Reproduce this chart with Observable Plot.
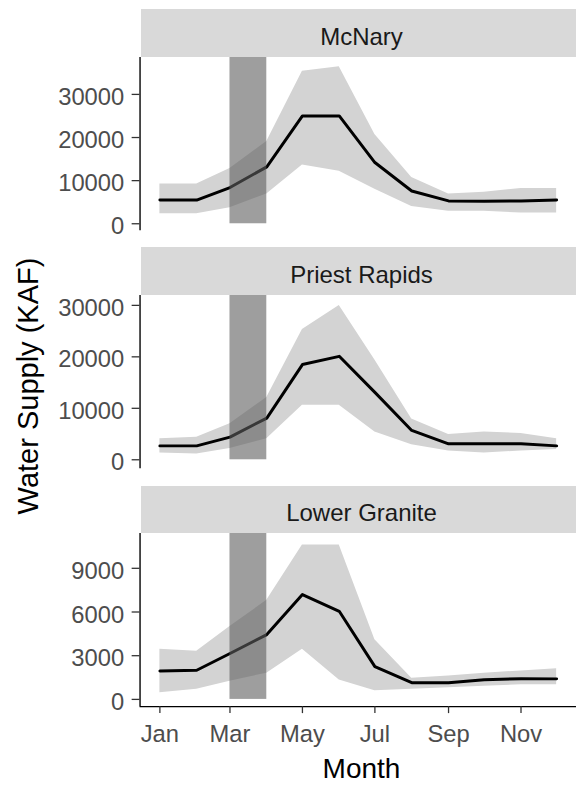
<!DOCTYPE html>
<html>
<head>
<meta charset="utf-8">
<script src="https://cdn.jsdelivr.net/npm/d3@7"></script>
<script src="https://cdn.jsdelivr.net/npm/@observablehq/plot@0.6"></script>
<style>
html, body { margin: 0; padding: 0; background: #fff; overflow: hidden; }
body { width: 576px; height: 785px; position: relative; font-family: Arial, "Liberation Sans", sans-serif; }
.strip { position: absolute; left: 141px; width: 441px; background: #d9d9d9; color: #1a1a1a;
  font-size: 24px; display: flex; align-items: center; justify-content: center; box-sizing: border-box; padding-top: 7px; }
.panel { position: absolute; left: 0; }
.panel svg { overflow: visible; display: block; }
#ytitle { position: absolute; width: 320px; height: 30px; line-height: 30px; font-size: 29px; color: #000;
  text-align: center; left: -132.5px; top: 371px; transform: rotate(-90deg); transform-origin: 160px 15px; white-space: nowrap; }
#xtitle { position: absolute; left: 141px; width: 441px; top: 755px; height: 28px; line-height: 28px; font-size: 28px;
  color: #000; text-align: center; }
</style>
</head>
<body>
<div id="root"></div>
<script>
// ---- data ----
const months = ["Jan","Feb","Mar","Apr","May","Jun","Jul","Aug","Sep","Oct","Nov","Dec"];
const stations = ["McNary", "Priest Rapids", "Lower Granite"];

const mcnaryMedian = [5500, 5500, 8400, 13200, 25000, 25000, 14200, 7600, 5300, 5200, 5300, 5500];
const mcnaryLow    = [2300, 2300, 3700, 6900, 13600, 12200, 8000, 4000, 2900, 2900, 2500, 2500];
const mcnaryHigh   = [9200, 9200, 12800, 19100, 35400, 36400, 20700, 10700, 6900, 7300, 8200, 8200];

const priestMedian = [2700, 2700, 4400, 8100, 18500, 20100, 13100, 5700, 3100, 3100, 3100, 2700];
const priestLow    = [1300, 1100, 2200, 4100, 10600, 10600, 5400, 2900, 1700, 1300, 1700, 2000];
const priestHigh   = [4100, 4400, 7000, 12100, 25300, 30000, 19400, 7900, 4900, 5400, 5100, 4100];

const graniteMedian = [1950, 2000, 3150, 4450, 7200, 6050, 2250, 1150, 1150, 1350, 1420, 1410];
const graniteLow    = [450, 700, 1250, 1800, 3450, 1330, 600, 700, 800, 900, 1000, 1000];
const graniteHigh   = [3450, 3300, 5000, 6800, 10600, 10600, 4100, 1450, 1600, 1800, 1950, 2100];

const ticksLarge = [0, 10000, 20000, 30000];
const ticksSmall = [0, 3000, 6000, 9000];
const xTickLabels = ["Jan", "Mar", "May", "Jul", "Sep", "Nov"];
const highlightMonths = ["Mar", "Apr"];

// ---- build ----
const YEAR = 2019;
const monthDate = m => new Date(Date.UTC(YEAR, months.indexOf(m), 1));
function rows(med, lo, hi) {
  return months.map((m, i) => ({date: monthDate(m), median: med[i], low: lo[i], high: hi[i]}));
}
const series = [
  {name: stations[0], data: rows(mcnaryMedian, mcnaryLow, mcnaryHigh), ticks: ticksLarge, yDomain: [-1607, 38560]},
  {name: stations[1], data: rows(priestMedian, priestLow, priestHigh), ticks: ticksLarge, yDomain: [-1731, 31920]},
  {name: stations[2], data: rows(graniteMedian, graniteLow, graniteHigh), ticks: ticksSmall, yDomain: [-500, 11390]}
];
const t0 = monthDate(months[0]), t1 = monthDate(months[months.length - 1]);
const pad = (t1 - t0) * 0.05;
const xDomain = [new Date(+t0 - pad), new Date(+t1 + pad)];
const xTicks = xTickLabels.map(monthDate);

const stripTops = [9, 247, 486];
const stripHeights = [48, 48, 47];
const panelTops = [57, 295, 533];
const PANEL_H = 175;
const FONT = 'Arial, "Liberation Sans", sans-serif';
const root = document.getElementById("root");

series.forEach((s, i) => {
  const strip = document.createElement("div");
  strip.className = "strip";
  strip.style.top = stripTops[i] + "px";
  strip.style.height = stripHeights[i] + "px";
  strip.textContent = s.name;
  root.appendChild(strip);

  const last = i === series.length - 1;
  const mb = last ? 45 : 0;
  const hl = [{x1: monthDate(highlightMonths[0]), x2: monthDate(highlightMonths[1]), y1: 0, y2: s.yDomain[1]}];
  const marks = [
    Plot.areaY(s.data, {x: "date", y1: "low", y2: "high", fill: "#d3d3d3"}),
    Plot.lineY(s.data, {x: "date", y: "median", stroke: "#000", strokeWidth: 3}),
    Plot.rect(hl, {x1: "x1", x2: "x2", y1: "y1", y2: "y2", fill: "#5e5e5e", fillOpacity: 0.6}),
    Plot.ruleX([xDomain[0]], {stroke: "#000", strokeWidth: 1.4}),
    Plot.axisY(s.ticks, {tickSize: 8, stroke: "#333", strokeWidth: 1.3, fill: "none", label: null}),
    Plot.axisY(s.ticks, {tickSize: 0, tickPadding: 16, tickFormat: d3.format("d"), fontSize: 24,
      fill: "#4d4d4d", dy: 3, label: null})
  ];
  if (last) {
    marks.push(
      Plot.ruleY([s.yDomain[0]], {stroke: "#000", strokeWidth: 1.4}),
      Plot.axisX(xTicks, {tickSize: 7, stroke: "#333", strokeWidth: 1.3, fill: "none", label: null}),
      Plot.axisX(xTicks, {tickSize: 0, tickPadding: 19, fontSize: 24, fill: "#4d4d4d",
        tickFormat: d => months[d.getUTCMonth()], label: null})
    );
  }
  const chart = Plot.plot({
    width: 582, height: PANEL_H + mb,
    marginLeft: 141, marginRight: 0, marginTop: 0, marginBottom: mb,
    style: {fontFamily: FONT, overflow: "visible", background: "transparent"},
    x: {type: "utc", domain: xDomain, axis: null},
    y: {domain: s.yDomain, axis: null},
    marks
  });
  const wrap = document.createElement("div");
  wrap.className = "panel";
  wrap.style.top = panelTops[i] + "px";
  wrap.appendChild(chart);
  root.appendChild(wrap);
});

const yt = document.createElement("div");
yt.id = "ytitle";
yt.textContent = "Water Supply (KAF)";
root.appendChild(yt);
const xt = document.createElement("div");
xt.id = "xtitle";
xt.textContent = "Month";
root.appendChild(xt);
</script>
</body>
</html>
